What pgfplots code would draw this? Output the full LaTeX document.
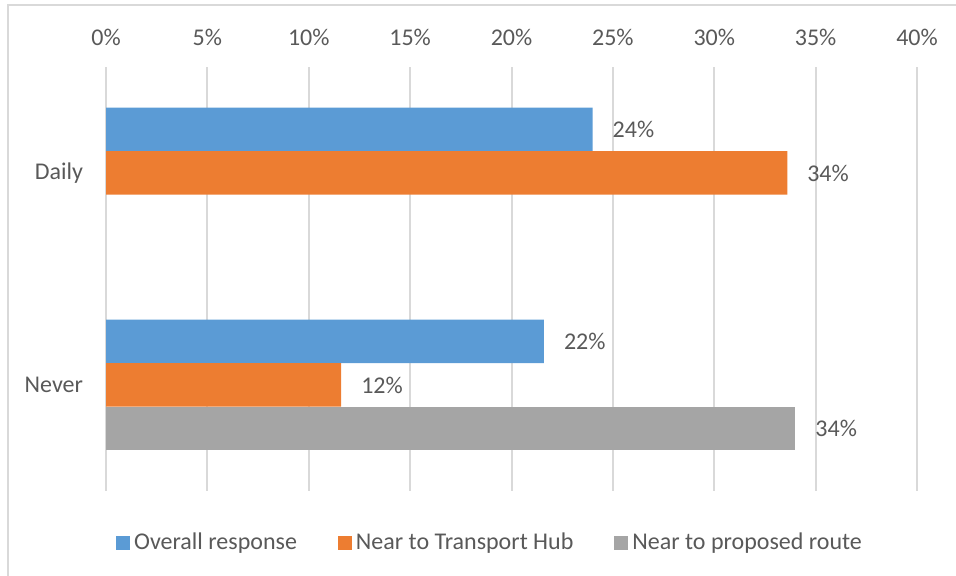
\documentclass[border=0pt]{standalone}
\usepackage{fontspec}
\setmainfont{Carlito}
\usepackage{pgfplots}
\pgfplotsset{compat=1.18}
\definecolor{sblue}{HTML}{5B9BD5}
\definecolor{sorange}{HTML}{ED7D31}
\definecolor{sgray}{HTML}{A5A5A5}
\definecolor{gridc}{HTML}{D9D9D9}
\definecolor{txt}{HTML}{595959}
\newcommand{\lbl}{\fontsize{12}{14}\selectfont}
\begin{document}
\begin{tikzpicture}
\begin{axis}[at={(0,0)},anchor=south west,scale only axis,
  width=405.5pt,height=212pt,
  /pgf/number format/assume math mode=true,
  xbar=0pt,bar width=21.75pt,
  xmin=0,xmax=40,xtick={0,5,...,40},
  xticklabel={\pgfmathprintnumber{\tick}\%},
  xticklabel pos=upper,
  x tick label style={anchor=center,yshift=15pt},
  ymin=-0.5,ymax=1.5,
  ytick={0,1},yticklabels={Never,Daily},
  y tick label style={xshift=-8pt},
  xmajorgrids,major grid style={gridc,line width=1pt},
  axis line style={draw=none},major tick length=0pt,
  tick label style={font=\lbl,text=txt},
  nodes near coords={\pgfmathprintnumber[fixed,precision=0]{\pgfplotspointmeta}\%},
  nodes near coords style={font=\lbl,text=txt,xshift=6.5pt},
  legend style={at={(0.4747,-0.1226)},anchor=center,draw=none,
    legend columns=3,font=\lbl,text=txt,
    /tikz/every even column/.append style={column sep=18.5pt}},
  legend image code/.code={\fill[#1] (0pt,-3.5pt) rectangle (7pt,3.5pt);},
]
% Daily at y=1, Never at y=0; blue on top, gray at the bottom of each group
\addplot[fill=sblue,draw=none,bar shift=21.75pt] coordinates {(24.0,1) (21.6,0)};
\addplot[fill=sorange,draw=none,bar shift=0pt] coordinates {(33.6,1) (11.6,0)};
\addplot[fill=sgray,draw=none,bar shift=-21.75pt] coordinates {(34.0,0)};
\legend{Overall response,Near to Transport Hub,Near to proposed route}
\end{axis}
\draw[gridc,line width=0.75pt] (-49pt,-60pt) -- (-49pt,243pt) -- (440pt,243pt);
\pgfresetboundingbox
\path[use as bounding box] (-53pt,-42.5pt) rectangle (425pt,245.5pt);
\end{tikzpicture}
\end{document}
